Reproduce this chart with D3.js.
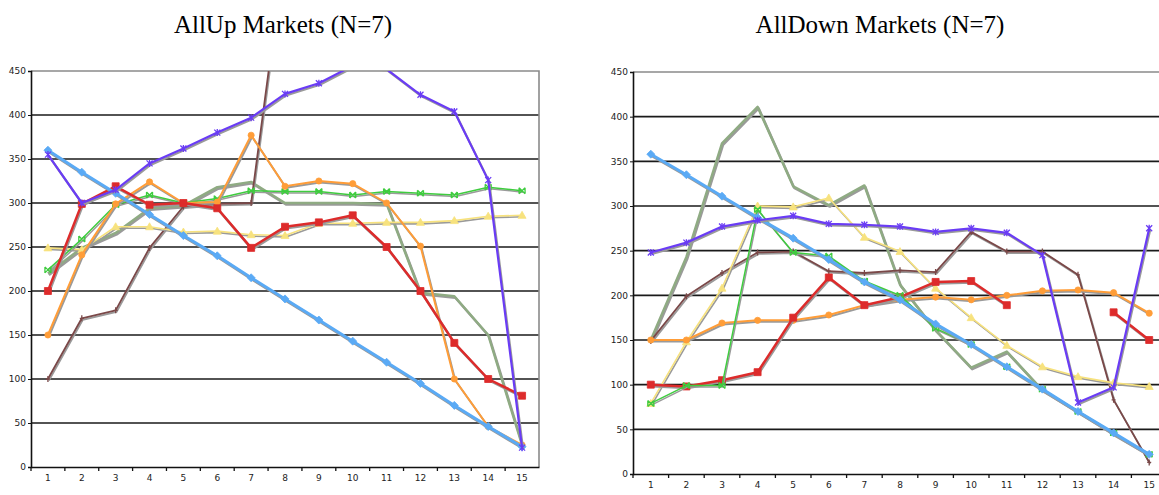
<!DOCTYPE html>
<html>
<head>
<meta charset="utf-8">
<script src="https://cdn.jsdelivr.net/npm/d3@7"></script>
<style>
  body { margin: 0; background: #fff; }
  svg { display: block; }
  .tick text { font-family: "DejaVu Sans", sans-serif; font-size: 9px; fill: #222; }
</style>
</head>
<body>
<div id="container"></div>
<script>
var width = 1159,
    height = 495;

// ---- data ----
var categories = [1, 2, 3, 4, 5, 6, 7, 8, 9, 10, 11, 12, 13, 14, 15];
var yTicks = [0, 50, 100, 150, 200, 250, 300, 350, 400, 450];
var titles = ["AllUp Markets (N=7)", "AllDown Markets (N=7)"];

// AllUp
var upPurple = [355, 300, 315, 345, 362, 380, 397, 424, 436, 456, 452, 423, 404, 326, 22];
var upBlue   = [360, 335, 311, 287, 263, 240, 215, 191, 167, 143, 119, 95, 70, 46, 23];
var upRed    = [200, 299, 319, 298, 300, 294, 249, 273, 278, 286, 250, 200, 141, 100, 81];
var upOrange = [150, 241, 299, 324, 300, 301, 377, 319, 325, 322, 300, 251, 100, 46, 25];
var upYellow = [249, 247, 273, 273, 267, 268, 264, 263, 277, 277, 278, 278, 280, 285, 286];
var upGreen  = [224, 259, 298, 309, 300, 305, 314, 313, 313, 309, 313, 311, 309, 318, 314];
var upSage   = [220, 249, 266, 294, 297, 318, 324, 300, 300, 300, 299, 198, 194, 150, 25];
var upBrown  = [100, 169, 178, 249, 296, 299, 300, 590, null, null, null, null, null, null, null];

// AllDown
var downPurple = [248, 259, 277, 284, 289, 280, 279, 277, 271, 275, 270, 245, 80, 97, 275];
var downBlue   = [358, 335, 311, 287, 264, 240, 215, 195, 168, 145, 120, 95, 70, 46, 22];
var downRed    = [100, 98, 105, 114, 175, 220, 189, 198, 215, 216, 189, null, null, 181, 150];
var downOrange = [150, 150, 169, 172, 172, 178, 189, 195, 198, 195, 200, 205, 206, 203, 180];
var downYellow = [79, 148, 208, 300, 299, 309, 265, 249, 208, 175, 144, 120, 109, 102, 98];
var downGreen  = [79, 99, 99, 296, 248, 244, 216, 200, 163, 145, 120, 95, 70, 46, 22];
var downSage   = [150, 243, 370, 411, 322, 301, 323, 212, 161, 119, 137, 94, 70, 45, 22];
var downBrown  = [149, 199, 225, 248, 249, 227, 225, 228, 226, 271, 249, 249, 223, 83, 13];

// drawing order / styles
var styles = {
    sage:   { color: "#8fab83", w: 2.5, marker: "none" },
    brown:  { color: "#7a4848", w: 1.8, marker: "plus" },
    yellow: { color: "#f7e27e", w: 1.6, marker: "triangle" },
    green:  { color: "#3fcc3f", w: 1.5, marker: "x" },
    orange: { color: "#ff9d38", w: 2, marker: "circle" },
    red:    { color: "#dd2b2b", w: 2.5, marker: "square" },
    blue:   { color: "#5aaaf5", w: 3, marker: "diamond" },
    purple: { color: "#6a3cf5", w: 2.2, marker: "star" }
};

var upSeries = [
    { key: "sage", values: upSage },
    { key: "brown", values: upBrown },
    { key: "yellow", values: upYellow },
    { key: "green", values: upGreen },
    { key: "orange", values: upOrange },
    { key: "red", values: upRed },
    { key: "blue", values: upBlue },
    { key: "purple", values: upPurple }
];
var downSeries = [
    { key: "sage", values: downSage },
    { key: "brown", values: downBrown },
    { key: "yellow", values: downYellow },
    { key: "orange", values: downOrange },
    { key: "red", values: downRed },
    { key: "green", values: downGreen },
    { key: "blue", values: downBlue },
    { key: "purple", values: downPurple }
];

var svg = d3.select("#container").append("svg")
    .attr("width", width)
    .attr("height", height);

function markerPath(type) {
    switch (type) {
        case "square": return "M-3.5,-3.5h7v7h-7z";
        case "diamond": return "M0,-4L4,0L0,4L-4,0z";
        case "triangle": return "M0,-4L4,3L-4,3z";
        case "circle": return d3.symbol(d3.symbolCircle, 30)();
        case "x": return "M-3,-3L3,3M-3,3L3,-3M-3,-3V3M3,-3V3";
        case "plus": return "M0,-3V3M-2,0H2";
        case "star": return "M-3,-3L3,3M-3,3L3,-3M0,-3.5V3.5";
        default: return null;
    }
}

function drawChart(idx, series, box, titleX) {
    var x = d3.scaleBand().domain(categories).range([box.x0, box.x1]);
    var y = d3.scaleLinear().domain([0, 450]).range([box.y0, box.y1]);
    var bw = x.bandwidth();
    var cx = d => x(d) + bw / 2;

    var g = svg.append("g");

    g.append("text")
        .attr("x", titleX)
        .attr("y", 33)
        .attr("text-anchor", "middle")
        .style("font-family", "'Liberation Serif', serif")
        .style("font-size", "25px")
        .text(titles[idx]);

    // grid lines
    g.selectAll(".grid")
        .data(yTicks.filter(t => t > 0 && t < 450))
        .enter().append("line")
        .attr("x1", box.x0).attr("x2", box.x1)
        .attr("y1", d => y(d)).attr("y2", d => y(d))
        .attr("stroke", "#1a1a1a")
        .attr("stroke-width", 1.6);

    // plot border (top / right) in gray
    g.append("path")
        .attr("d", "M" + box.x0 + "," + y(450) + "H" + box.x1 + "V" + y(0))
        .attr("fill", "none")
        .attr("stroke", "#8a8a8a")
        .attr("stroke-width", 1.6);

    // clip
    var clipId = "clip" + idx;
    svg.append("clipPath").attr("id", clipId)
        .append("rect")
        .attr("x", box.x0).attr("y", y(450))
        .attr("width", box.x1 - box.x0).attr("height", y(0) - y(450));

    var lines = g.append("g").attr("clip-path", "url(#" + clipId + ")");

    var line = d3.line()
        .defined(d => d != null)
        .x((d, i) => cx(categories[i]))
        .y(d => y(d));

    series.forEach(s => {
        var st = styles[s.key];
        // shadow
        lines.append("path")
            .attr("d", line(s.values))
            .attr("transform", "translate(1,1.5)")
            .attr("fill", "none")
            .attr("stroke", "#9a9a9a")
            .attr("stroke-width", st.w)
            .attr("stroke-linejoin", "round");
        lines.append("path")
            .attr("d", line(s.values))
            .attr("fill", "none")
            .attr("stroke", st.color)
            .attr("stroke-width", st.w)
            .attr("stroke-linejoin", "round");

        var mp = markerPath(st.marker);
        if (mp) {
            var pts = s.values.map((v, i) => ({ v: v, c: categories[i] }))
                .filter(p => p.v != null && p.v <= 450);
            var filled = st.marker !== "x" && st.marker !== "plus" && st.marker !== "star";
            lines.selectAll(null)
                .data(pts)
                .enter().append("path")
                .attr("transform", p => "translate(" + cx(p.c) + "," + y(p.v) + ")")
                .attr("d", mp)
                .attr("fill", filled ? st.color : "none")
                .attr("stroke", st.color)
                .attr("stroke-width", filled ? 0.8 : 1.3);
        }
    });

    // axes
    var yAxis = d3.axisLeft(y).tickValues(yTicks).tickSize(3).tickPadding(2);
    g.append("g")
        .attr("transform", "translate(" + box.x0 + ",0)")
        .call(yAxis)
        .call(a => a.select(".domain").attr("stroke", "#111").attr("stroke-width", 1.6))
        .call(a => a.selectAll(".tick line").attr("stroke", "#111"));

    var xAxis = d3.axisBottom(x).tickSize(0).tickPadding(8);
    g.append("g")
        .attr("transform", "translate(0," + box.y0 + ")")
        .call(xAxis)
        .call(a => a.select(".domain").attr("stroke", "#111").attr("stroke-width", 1.6));

    // category boundary ticks
    g.selectAll(".xb")
        .data(categories)
        .enter().append("line")
        .attr("x1", d => x(d)).attr("x2", d => x(d))
        .attr("y1", box.y0).attr("y2", box.y0 + 4)
        .attr("stroke", "#111")
        .attr("stroke-width", 1.3);
}

drawChart(0, upSeries, { x0: 31, x1: 539, y0: 467, y1: 71 }, 283);
drawChart(1, downSeries, { x0: 633, x1: 1167, y0: 474, y1: 72 }, 880);
</script>
</body>
</html>
